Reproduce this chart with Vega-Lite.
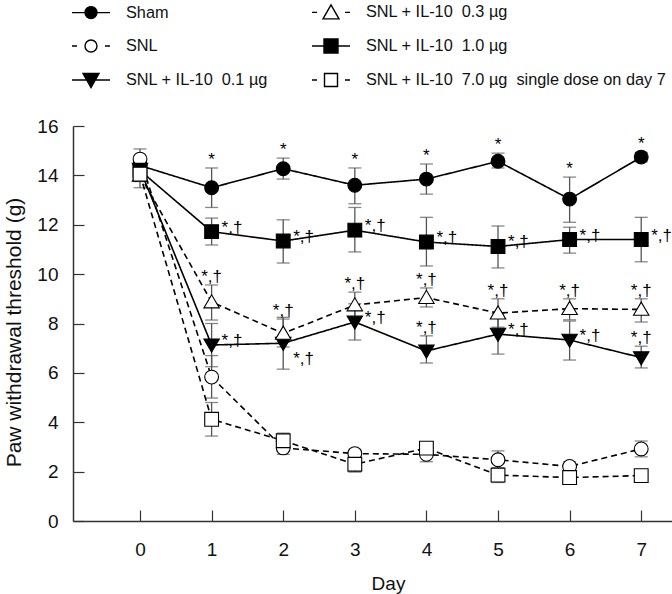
{
  "$schema": "https://vega.github.io/schema/vega-lite/v6.json",
  "width": 599,
  "height": 395,
  "autosize": {"type": "none"},
  "padding": {"left": 73, "top": 126, "right": 0, "bottom": 73},
  "background": "white",
  "config": {
    "view": {"stroke": null},
    "font": "Liberation Sans, sans-serif",
    "axis": {"grid": false, "domainColor": "#333", "tickColor": "#333", "domainWidth": 1.5, "tickWidth": 1.2, "labelColor": "#111", "titleColor": "#111", "titleFontWeight": "normal"},
    "legend": {
      "orient": "none", "legendX": 7, "legendY": -125, "columns": 2, "columnPadding": 41, "rowPadding": 13, "padding": 0,
      "symbolSize": 400, "symbolStrokeColor": "black", "symbolStrokeWidth": 1.4, "symbolOpacity": 1,
      "labelOffset": 24, "labelFontSize": 16.3, "labelColor": "#111", "labelLimit": 400
    }
  },
  "datasets": {
    "d": [
      {"group": "Sham", "day": 0, "mean": 14.4, "lower": 14.1, "upper": 14.7, "ann": "", "pos": "none"},
      {"group": "Sham", "day": 1, "mean": 13.5, "lower": 12.7, "upper": 14.3, "ann": "*", "pos": "above"},
      {"group": "Sham", "day": 2, "mean": 14.27, "lower": 13.85, "upper": 14.7, "ann": "*", "pos": "above"},
      {"group": "Sham", "day": 3, "mean": 13.6, "lower": 12.85, "upper": 14.3, "ann": "*", "pos": "above"},
      {"group": "Sham", "day": 4, "mean": 13.85, "lower": 13.24, "upper": 14.46, "ann": "*", "pos": "above"},
      {"group": "Sham", "day": 5, "mean": 14.57, "lower": 14.3, "upper": 14.9, "ann": "*", "pos": "above"},
      {"group": "Sham", "day": 6, "mean": 13.04, "lower": 12.1, "upper": 13.93, "ann": "*", "pos": "above"},
      {"group": "Sham", "day": 7, "mean": 14.74, "lower": 14.55, "upper": 14.93, "ann": "*", "pos": "above"},

      {"group": "SNL", "day": 0, "mean": 14.66, "lower": 14.3, "upper": 15.07, "ann": "", "pos": "none"},
      {"group": "SNL", "day": 1, "mean": 5.83, "lower": 4.98, "upper": 6.7, "ann": "", "pos": "none"},
      {"group": "SNL", "day": 2, "mean": 2.96, "lower": 2.7, "upper": 3.2, "ann": "", "pos": "none"},
      {"group": "SNL", "day": 3, "mean": 2.73, "lower": 2.55, "upper": 2.9, "ann": "", "pos": "none"},
      {"group": "SNL", "day": 4, "mean": 2.7, "lower": 2.4, "upper": 3.05, "ann": "", "pos": "none"},
      {"group": "SNL", "day": 5, "mean": 2.48, "lower": 2.15, "upper": 2.84, "ann": "", "pos": "none"},
      {"group": "SNL", "day": 6, "mean": 2.21, "lower": 2.0, "upper": 2.4, "ann": "", "pos": "none"},
      {"group": "SNL", "day": 7, "mean": 2.92, "lower": 2.6, "upper": 3.24, "ann": "", "pos": "none"},

      {"group": "0.1", "day": 0, "mean": 14.25, "lower": 13.95, "upper": 14.55, "ann": "", "pos": "none"},
      {"group": "0.1", "day": 1, "mean": 7.13, "lower": 6.25, "upper": 8.0, "ann": "*,†", "pos": "right"},
      {"group": "0.1", "day": 2, "mean": 7.2, "lower": 6.15, "upper": 8.25, "ann": "*,†", "pos": "below"},
      {"group": "0.1", "day": 3, "mean": 8.06, "lower": 7.33, "upper": 8.8, "ann": "*,†", "pos": "right"},
      {"group": "0.1", "day": 4, "mean": 6.89, "lower": 6.4, "upper": 7.5, "ann": "*,†", "pos": "above"},
      {"group": "0.1", "day": 5, "mean": 7.57, "lower": 6.76, "upper": 8.4, "ann": "*,†", "pos": "right"},
      {"group": "0.1", "day": 6, "mean": 7.33, "lower": 6.52, "upper": 8.1, "ann": "*,†", "pos": "right"},
      {"group": "0.1", "day": 7, "mean": 6.62, "lower": 6.2, "upper": 7.08, "ann": "*,†", "pos": "above"},

      {"group": "0.3", "day": 0, "mean": 14.0, "lower": 13.5, "upper": 14.4, "ann": "", "pos": "none"},
      {"group": "0.3", "day": 1, "mean": 8.87, "lower": 8.14, "upper": 9.56, "ann": "*,†", "pos": "above"},
      {"group": "0.3", "day": 2, "mean": 7.6, "lower": 7.05, "upper": 8.18, "ann": "*,†", "pos": "above"},
      {"group": "0.3", "day": 3, "mean": 8.75, "lower": 8.23, "upper": 9.27, "ann": "*,†", "pos": "above"},
      {"group": "0.3", "day": 4, "mean": 9.05, "lower": 8.67, "upper": 9.44, "ann": "*,†", "pos": "above"},
      {"group": "0.3", "day": 5, "mean": 8.42, "lower": 7.85, "upper": 9.0, "ann": "*,†", "pos": "above"},
      {"group": "0.3", "day": 6, "mean": 8.6, "lower": 8.15, "upper": 9.0, "ann": "*,†", "pos": "above"},
      {"group": "0.3", "day": 7, "mean": 8.57, "lower": 8.06, "upper": 9.0, "ann": "*,†", "pos": "above"},

      {"group": "1.0", "day": 0, "mean": 14.2, "lower": 13.9, "upper": 14.5, "ann": "", "pos": "none"},
      {"group": "1.0", "day": 1, "mean": 11.72, "lower": 11.18, "upper": 12.27, "ann": "*,†", "pos": "right"},
      {"group": "1.0", "day": 2, "mean": 11.34, "lower": 10.45, "upper": 12.2, "ann": "*,†", "pos": "right"},
      {"group": "1.0", "day": 3, "mean": 11.78, "lower": 10.9, "upper": 12.7, "ann": "*,†", "pos": "right"},
      {"group": "1.0", "day": 4, "mean": 11.3, "lower": 10.33, "upper": 12.3, "ann": "*,†", "pos": "right"},
      {"group": "1.0", "day": 5, "mean": 11.12, "lower": 10.25, "upper": 11.95, "ann": "*,†", "pos": "right"},
      {"group": "1.0", "day": 6, "mean": 11.4, "lower": 10.85, "upper": 11.9, "ann": "*,†", "pos": "right"},
      {"group": "1.0", "day": 7, "mean": 11.4, "lower": 10.5, "upper": 12.3, "ann": "*,†", "pos": "right"},

      {"group": "7.0", "day": 0, "mean": 14.05, "lower": 13.75, "upper": 14.35, "ann": "", "pos": "none"},
      {"group": "7.0", "day": 1, "mean": 4.12, "lower": 3.44, "upper": 4.8, "ann": "", "pos": "none"},
      {"group": "7.0", "day": 2, "mean": 3.25, "lower": 2.95, "upper": 3.56, "ann": "", "pos": "none"},
      {"group": "7.0", "day": 3, "mean": 2.3, "lower": 1.98, "upper": 2.6, "ann": "", "pos": "none"},
      {"group": "7.0", "day": 4, "mean": 2.95, "lower": 2.7, "upper": 3.16, "ann": "", "pos": "none"},
      {"group": "7.0", "day": 5, "mean": 1.86, "lower": 1.56, "upper": 2.16, "ann": "", "pos": "none"},
      {"group": "7.0", "day": 6, "mean": 1.76, "lower": 1.55, "upper": 1.98, "ann": "", "pos": "none"},
      {"group": "7.0", "day": 7, "mean": 1.84, "lower": 1.62, "upper": 2.05, "ann": "", "pos": "none"}
    ]
  },
  "data": {"name": "d"},
  "layer": [
    {
      "encoding": {
        "x": {
          "field": "day", "type": "quantitative",
          "scale": {"domain": [-0.936, 7.43], "nice": false, "zero": false},
          "axis": {"values": [0, 1, 2, 3, 4, 5, 6, 7], "format": "d", "tickSize": -11, "labelFontSize": 19, "labelPadding": 30, "title": "Day", "titleFontSize": 19, "titleX": 315, "titleY": 62, "titleBaseline": "middle"}
        },
        "y": {
          "field": "mean", "type": "quantitative", "scale": {"domain": [0, 16], "nice": false},
          "axis": {"values": [0, 2, 4, 6, 8, 10, 12, 14, 16], "tickSize": -11, "labelFontSize": 19, "labelPadding": 26, "title": "Paw withdrawal threshold (g)", "titleFontSize": 21, "titleX": -59, "titleY": 206, "titleAngle": -90, "titleBaseline": "middle", "titleAlign": "center"}
        }
      },
      "layer": [
        {
          "mark": {"type": "errorbar", "ticks": {"size": 13}, "color": "#555", "thickness": 1.3},
          "encoding": {
            "y": {"field": "lower", "type": "quantitative", "title": "Paw withdrawal threshold (g)"},
            "y2": {"field": "upper"},
            "detail": {"field": "group"}
          }
        },
        {
          "mark": {"type": "line", "color": "black", "strokeWidth": 1.6},
          "encoding": {
            "detail": {"field": "group"},
            "strokeDash": {
              "field": "group", "type": "nominal",
              "scale": {"domain": ["Sham", "SNL", "0.1", "0.3", "1.0", "7.0"], "range": [[1, 0], [6, 4], [1, 0], [6, 4], [1, 0], [6, 4]]},
              "legend": null
            }
          }
        },
        {
          "mark": {"type": "point", "filled": true, "size": 190, "stroke": "black", "strokeWidth": 1.1, "opacity": 1},
          "encoding": {
            "shape": {
              "field": "group", "type": "nominal",
              "scale": {"domain": ["Sham", "SNL", "0.1", "0.3", "1.0", "7.0"], "range": ["circle", "circle", "M-1.12,-0.85H1.12L0,1.05Z", "M-1.12,0.85H1.12L0,-1.05Z", "square", "square"]},
              "legend": null
            },
            "fill": {
              "field": "group", "type": "nominal",
              "scale": {"domain": ["Sham", "SNL", "0.1", "0.3", "1.0", "7.0"], "range": ["black", "white", "black", "white", "black", "white"]},
              "legend": null
            }
          }
        },
        {
          "transform": [{"filter": "datum.pos === 'above'"}],
          "mark": {"type": "text", "fontSize": 17, "dy": -8, "align": "center", "baseline": "middle", "color": "black"},
          "encoding": {"y": {"field": "upper", "type": "quantitative"}, "text": {"field": "ann"}}
        },
        {
          "transform": [{"filter": "datum.pos === 'right'"}],
          "mark": {"type": "text", "fontSize": 17, "dx": 10, "dy": -4, "align": "left", "baseline": "middle", "color": "black"},
          "encoding": {"text": {"field": "ann"}}
        },
        {
          "transform": [{"filter": "datum.pos === 'below'"}],
          "mark": {"type": "text", "fontSize": 17, "dx": 10, "dy": 16, "align": "left", "baseline": "middle", "color": "black"},
          "encoding": {"text": {"field": "ann"}}
        }
      ]
    },
    {
      "transform": [{"filter": "datum.day === 0"}],
      "mark": {"type": "point", "filled": true, "opacity": 0, "strokeWidth": 1.4},
      "encoding": {
        "shape": {
          "field": "group", "type": "nominal",
          "scale": {"domain": ["Sham", "SNL", "0.1", "0.3", "1.0", "7.0"], "range": [
            "M-1.9,0H1.9M-0.6,0A0.6,0.6,0,1,0,0.6,0A0.6,0.6,0,1,0,-0.6,0Z",
            "M-1.9,0H-1.4M1.4,0H1.9M-0.6,0A0.6,0.6,0,1,0,0.6,0A0.6,0.6,0,1,0,-0.6,0Z",
            "M-1.9,0H1.9M-0.8,-0.65H0.8L0,0.75Z",
            "M-1.9,0H-1.4M1.4,0H1.9M-0.8,0.65H0.8L0,-0.75Z",
            "M-1.9,0H1.9M-0.7,-0.7H0.7V0.7H-0.7Z",
            "M-1.9,0H-1.4M1.4,0H1.9M-0.65,-0.65H0.65V0.65H-0.65Z"
          ]},
          "legend": {
            "title": null,
            "labelExpr": "datum.value === 'Sham' ? 'Sham' : datum.value === 'SNL' ? 'SNL' : 'SNL + IL-10\u00a0\u00a0' + datum.value + ' µg' + (datum.value === '7.0' ? '\u00a0\u00a0single dose on day 7' : '')"
          }
        },
        "fill": {
          "field": "group", "type": "nominal",
          "scale": {"domain": ["Sham", "SNL", "0.1", "0.3", "1.0", "7.0"], "range": ["black", "white", "black", "white", "black", "white"]},
          "legend": {
            "title": null,
            "labelExpr": "datum.value === 'Sham' ? 'Sham' : datum.value === 'SNL' ? 'SNL' : 'SNL + IL-10\u00a0\u00a0' + datum.value + ' µg' + (datum.value === '7.0' ? '\u00a0\u00a0single dose on day 7' : '')"
          }
        },
        "stroke": {
          "field": "group", "type": "nominal",
          "scale": {"domain": ["Sham", "SNL", "0.1", "0.3", "1.0", "7.0"], "range": ["black", "black", "black", "black", "black", "black"]},
          "legend": {
            "title": null,
            "labelExpr": "datum.value === 'Sham' ? 'Sham' : datum.value === 'SNL' ? 'SNL' : 'SNL + IL-10\u00a0\u00a0' + datum.value + ' µg' + (datum.value === '7.0' ? '\u00a0\u00a0single dose on day 7' : '')"
          }
        }
      }
    }
  ],
  "resolve": {"scale": {"shape": "independent", "fill": "independent", "stroke": "independent"}}
}
